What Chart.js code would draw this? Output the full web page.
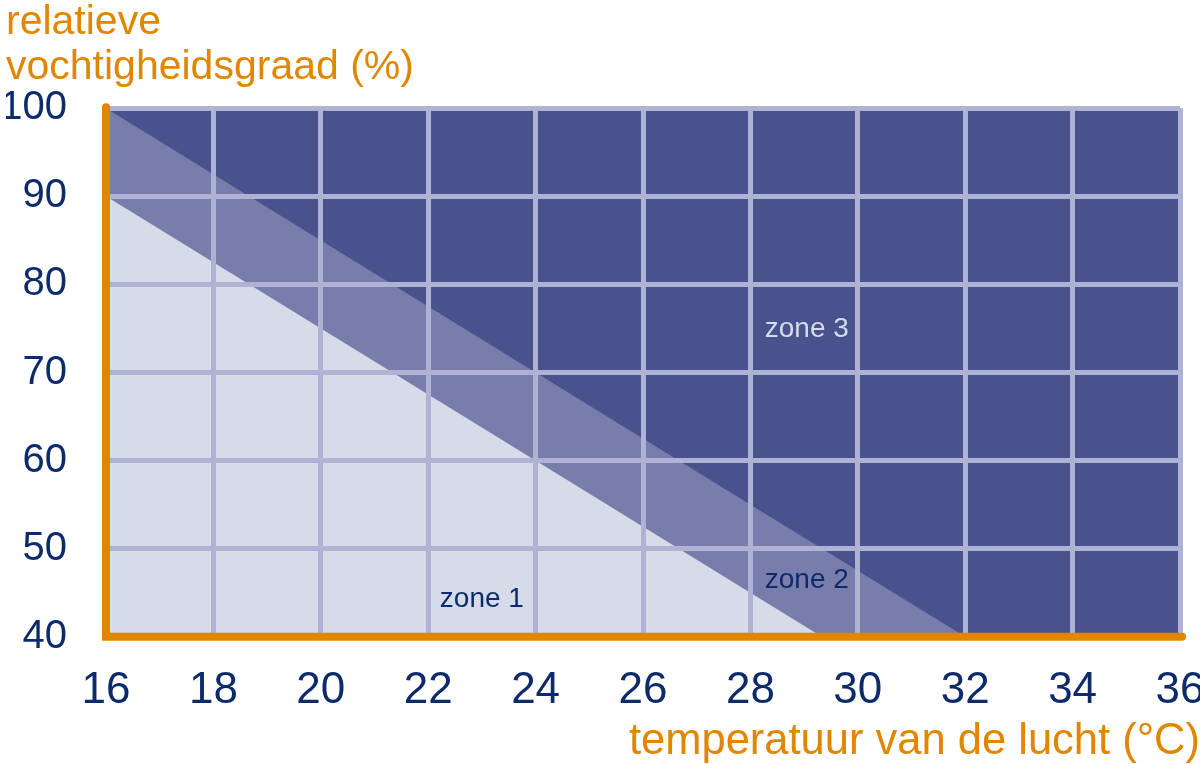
<!DOCTYPE html>
<html>
<head>
<meta charset="utf-8">
<script src="https://cdn.jsdelivr.net/npm/chart.js@4.4.1/dist/chart.umd.min.js"></script>
<style>
  body { margin: 0; background: #fff; }
  #wrap { width: 1200px; height: 764px; position: relative; }
</style>
</head>
<body>
<div id="wrap"><canvas id="zoneChart"></canvas></div>
<script>
// tick labels
const tempTicks = [16, 18, 20, 22, 24, 26, 28, 30, 32, 34, 36];
const humidityTicks = [40, 50, 60, 70, 80, 90, 100];

// zone boundaries: temperature (x) and relative humidity (y)
const zone1Temp = [16, 29.33];
const zone1Humidity = [90, 40];
const zone2Temp = [16, 32];
const zone2Humidity = [100, 40];
const zone3Temp = [16, 36];
const zone3Humidity = [100, 100];

const zoneNames = ["zone 1", "zone 2", "zone 3"];

const orange = "#e08600";
const navy = "#0d2b6b";
const gridColor = "#afb3d3";
const fontFamily = "'Liberation Sans', Arial, sans-serif";

function to_points(xs, ys) {
    return xs.map((x, i) => ({x: x, y: ys[i]}));
}

// labels inside the zones, placed in data units
const zoneLabelSpots = [
    {name: zoneNames[0], x: 23, y: 43.4, color: navy},
    {name: zoneNames[1], x: 29.05, y: 45.5, color: navy},
    {name: zoneNames[2], x: 29.05, y: 74.0, color: "#d5dbe9"}
];

const zoneLabels = {
    id: "zoneLabels",
    afterDraw(chart) {
        const ctx = chart.ctx;
        const xs = chart.scales.x, ys = chart.scales.y;
        ctx.save();
        ctx.font = "28px " + fontFamily;
        ctx.textAlign = "center";
        ctx.textBaseline = "alphabetic";
        zoneLabelSpots.forEach(l => {
            ctx.fillStyle = l.color;
            ctx.fillText(l.name, xs.getPixelForValue(l.x), ys.getPixelForValue(l.y));
        });
        ctx.restore();
    }
};

// orange axes with round ends
const axisLines = {
    id: "axisLines",
    afterDraw(chart) {
        const a = chart.chartArea;
        const ctx = chart.ctx;
        ctx.save();
        ctx.strokeStyle = orange;
        ctx.lineWidth = 8;
        ctx.lineCap = "round";
        ctx.beginPath();
        ctx.moveTo(a.left, a.top - 1);
        ctx.lineTo(a.left, a.bottom);
        ctx.lineTo(a.right + 2, a.bottom);
        ctx.stroke();
        ctx.restore();
    }
};

const ctx = document.getElementById("zoneChart").getContext("2d");

new Chart(ctx, {
    type: "line",
    data: {
        datasets: [
            {
                label: zoneNames[0],
                data: to_points(zone1Temp, zone1Humidity),
                backgroundColor: "#d5dbe9",
                fill: "start"
            },
            {
                label: zoneNames[1],
                data: to_points(zone2Temp, zone2Humidity),
                backgroundColor: "#797dab",
                fill: "start"
            },
            {
                label: zoneNames[2],
                data: to_points(zone3Temp, zone3Humidity),
                backgroundColor: "#49528d",
                fill: "start"
            }
        ]
    },
    options: {
        responsive: true,
        maintainAspectRatio: false,
        animation: false,
        elements: {
            line: { borderWidth: 0, tension: 0 },
            point: { radius: 0 }
        },
        layout: {
            padding: { left: 6, right: 0, top: 0, bottom: 0 }
        },
        plugins: {
            legend: { display: false },
            tooltip: { enabled: false },
            title: {
                display: true,
                text: ["relatieve", "vochtigheidsgraad (%)"],
                align: "start",
                color: orange,
                font: { family: fontFamily, size: 41, weight: "normal", lineHeight: 1.1 },
                padding: { top: 0, bottom: 18 }
            },
            subtitle: {
                display: true,
                position: "bottom",
                text: "temperatuur van de lucht (°C)",
                align: "end",
                color: orange,
                font: { family: fontFamily, size: 43.5, weight: "normal", lineHeight: 1.2 },
                padding: { top: 7, bottom: -4 }
            }
        },
        scales: {
            x: {
                type: "linear",
                min: tempTicks[0],
                max: tempTicks[tempTicks.length - 1],
                afterBuildTicks: scale => {
                    scale.ticks = tempTicks.map(v => ({value: v}));
                },
                afterFit: scale => {
                    scale.height = 72;
                    scale.paddingRight = 20;
                },
                border: { display: false },
                grid: {
                    z: 1,
                    drawTicks: false,
                    lineWidth: 5,
                    color: c => (c.tick && c.tick.value === tempTicks[0]) ? "rgba(0,0,0,0)" : gridColor
                },
                ticks: {
                    color: navy,
                    padding: 28,
                    autoSkip: false,
                    maxRotation: 0,
                    font: { family: fontFamily, size: 44 }
                }
            },
            y: {
                type: "linear",
                min: humidityTicks[0],
                max: humidityTicks[humidityTicks.length - 1],
                afterBuildTicks: scale => {
                    scale.ticks = humidityTicks.map(v => ({value: v}));
                },
                afterFit: scale => {
                    scale.width = 100;
                },
                border: { display: false },
                grid: {
                    z: 1,
                    drawTicks: false,
                    lineWidth: 5,
                    color: c => (c.tick && c.tick.value === humidityTicks[0]) ? "rgba(0,0,0,0)" : gridColor
                },
                ticks: {
                    color: navy,
                    padding: 39,
                    autoSkip: false,
                    font: { family: fontFamily, size: 40 }
                }
            }
        }
    },
    plugins: [zoneLabels, axisLines]
});
</script>
</body>
</html>
